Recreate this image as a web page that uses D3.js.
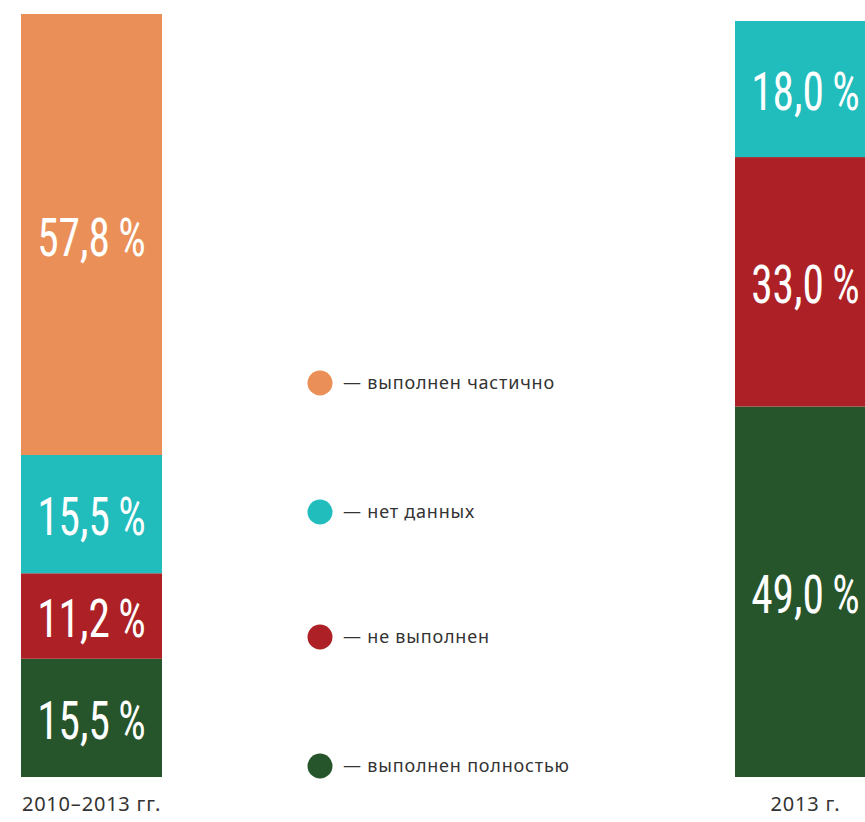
<!DOCTYPE html>
<html>
<head>
<meta charset="utf-8">
<script src="https://cdn.jsdelivr.net/npm/d3@7"></script>
<style>
  body { margin: 0; background: #fff; }
  svg { display: block; }
</style>
</head>
<body>
<svg id="chart" width="865" height="822"></svg>
<script>
const categories = ["выполнен полностью", "не выполнен", "нет данных", "выполнен частично"];
const colors = ["#27552b", "#ad2126", "#21bcbc", "#ea8f58"];
const periods = ["2010–2013 гг.", "2013 г."];
const values2010 = [15.5, 11.2, 15.5, 57.8];
const values2013 = [49.0, 33.0, 18.0, 0];

const width = 865, height = 822;
const svg = d3.select("#chart");

const fmt = v => d3.format(".1f")(v).replace(".", ",") + "\u2009%";

// каждый столбец со своим верхом
const bars = [
  { name: periods[0], vals: values2010, x0: 21, top: 14 },
  { name: periods[1], vals: values2013, x0: 735, top: 21 }
];
const bottom = 777;
const barW = 141;

bars.forEach(b => {
  const y = d3.scaleLinear().domain([0, 100]).range([bottom, b.top]);
  let acc = 0;
  const segs = b.vals.map((v, i) => {
    const s = { v, i, y0: acc, y1: acc + v };
    acc += v;
    return s;
  }).filter(s => s.v > 0);

  const g = svg.append("g");
  g.selectAll("rect")
    .data(segs)
    .join("rect")
      .attr("x", b.x0)
      .attr("width", barW)
      .attr("y", d => y(d.y1))
      .attr("height", d => y(d.y0) - y(d.y1))
      .attr("fill", d => colors[d.i]);

  const cx = Math.min(b.x0 + barW / 2, width - 58);
  g.selectAll("text.val")
    .data(segs)
    .join("text")
      .attr("class", "val")
      .attr("transform", d => `translate(${cx},${(y(d.y0) + y(d.y1)) / 2 + 2}) scale(0.82,1)`)
      .attr("dy", "0.36em")
      .attr("text-anchor", "middle")
      .attr("fill", "#fff")
      .attr("font-family", "'Liberation Sans Narrow', 'Roboto Condensed', sans-serif")
      .attr("font-size", 53)
      .text(d => fmt(d.v));

  g.append("text")
    .attr("x", Math.min(b.x0 + barW / 2, 807))
    .attr("y", 811)
    .attr("text-anchor", "middle")
    .attr("fill", "#333")
    .attr("font-family", "'Noto Sans', sans-serif")
    .attr("font-size", 20)
    .attr("letter-spacing", 0.8)
    .text(b.name);
});

// легенда
const legendY = [766, 637, 512, 383];
const leg = svg.append("g")
  .selectAll("g")
  .data(categories)
  .join("g")
    .attr("transform", (d, i) => `translate(320,${legendY[i]})`);

leg.append("circle")
  .attr("r", 12.5)
  .attr("fill", (d, i) => colors[i]);

leg.append("text")
  .attr("x", 23)
  .attr("dy", "0.35em")
  .attr("fill", "#333")
  .attr("font-family", "'Noto Sans', sans-serif")
  .attr("font-size", 18)
  .attr("letter-spacing", 0.8)
  .text(d => "— " + d);
</script>
</body>
</html>
